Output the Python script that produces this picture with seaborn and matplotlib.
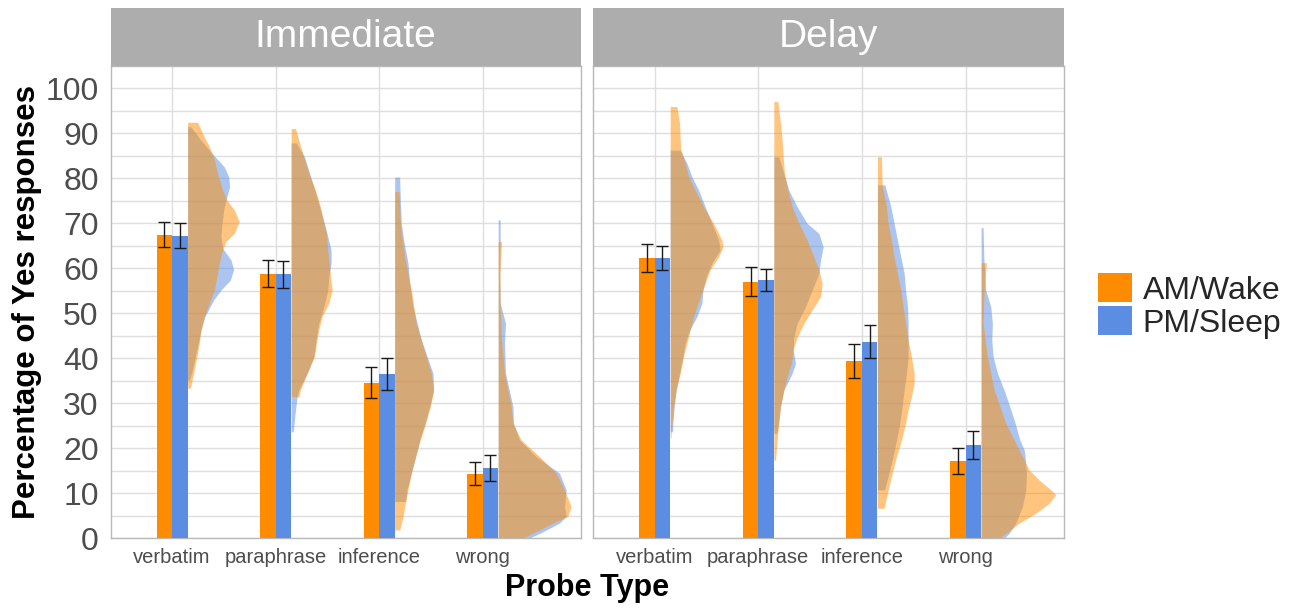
import matplotlib
matplotlib.use("Agg")
import matplotlib.pyplot as plt
import pandas as pd
import seaborn as sns
from matplotlib.patches import Patch
from matplotlib.ticker import MultipleLocator

sns.set_style("white")
plt.rcParams["font.family"] = ["Liberation Sans", "DejaVu Sans"]

# ---- data -------------------------------------------------------------
probes = ["verbatim", "paraphrase", "inference", "wrong"]
groups = ["AM/Wake", "PM/Sleep"]
sessions = ["Immediate", "Delay"]

# mean percentage of "yes" responses and SE half-widths
mean_imm_am = [67.4, 58.7, 34.5, 14.3]
mean_imm_pm = [67.2, 58.6, 36.4, 15.5]
se_imm_am = [2.8, 3.0, 3.4, 2.6]
se_imm_pm = [2.8, 3.0, 3.5, 2.9]
mean_del_am = [62.2, 57.0, 39.4, 17.1]
mean_del_pm = [62.2, 57.3, 43.6, 20.7]
se_del_am = [3.1, 3.2, 3.8, 2.8]
se_del_pm = [2.6, 2.4, 3.7, 3.1]

# density profiles of participant scores: (percentage, half-violin width)
imm_verbatim_am = [(92.4, 0.097), (89.9, 0.145), (87.0, 0.209), (84.7, 0.251), (81.0, 0.290),
                   (77.3, 0.338), (75.1, 0.380), (72.9, 0.451), (70.3, 0.499), (67.7, 0.451),
                   (65.9, 0.370), (64.0, 0.338), (61.1, 0.306), (58.1, 0.283), (55.1, 0.258),
                   (52.2, 0.209), (49.2, 0.161), (46.2, 0.129), (43.3, 0.113), (40.3, 0.090),
                   (36.6, 0.058), (33.3, 0.026)]
imm_verbatim_pm = [(91.4, 0.032), (88.4, 0.129), (85.1, 0.251), (82.5, 0.354), (80.3, 0.396),
                   (78.1, 0.406), (75.9, 0.380), (73.6, 0.354), (69.9, 0.332), (67.0, 0.322),
                   (64.4, 0.338), (61.8, 0.419), (59.6, 0.444), (57.3, 0.412), (55.1, 0.322),
                   (52.9, 0.251), (49.2, 0.167), (46.2, 0.129), (43.3, 0.103), (40.3, 0.074),
                   (36.6, 0.039), (35.1, 0.016)]
imm_paraphrase_am = [(91.0, 0.042), (88.4, 0.074), (84.7, 0.122), (81.0, 0.171), (77.3, 0.235),
                     (73.6, 0.283), (69.9, 0.316), (67.7, 0.341), (64.0, 0.354), (59.6, 0.374),
                     (55.1, 0.396), (52.2, 0.364), (49.2, 0.300), (46.2, 0.267), (43.3, 0.245),
                     (40.3, 0.225), (36.6, 0.155), (32.9, 0.090), (31.4, 0.074)]
imm_paraphrase_pm = [(87.8, 0.050), (84.7, 0.129), (77.3, 0.229), (69.9, 0.322), (67.0, 0.354),
                     (64.0, 0.386), (61.1, 0.386), (58.1, 0.364), (55.1, 0.354), (51.4, 0.316),
                     (47.7, 0.267), (44.7, 0.245), (40.3, 0.219), (36.6, 0.155), (32.9, 0.074),
                     (31.4, 0.058), (28.4, 0.042), (23.6, 0.020)]
imm_inference_am = [(77.0, 0.042), (69.9, 0.055), (62.5, 0.097), (55.1, 0.161), (47.7, 0.209),
                    (40.3, 0.306), (36.6, 0.354), (32.9, 0.377), (29.2, 0.345), (25.5, 0.300),
                    (21.8, 0.248), (18.1, 0.203), (14.4, 0.161), (10.7, 0.129), (8.1, 0.106),
                    (4.7, 0.080), (1.8, 0.050)]
imm_inference_pm = [(80.2, 0.048), (75.1, 0.055), (69.9, 0.064), (66.2, 0.087), (61.1, 0.129),
                    (56.6, 0.145), (51.4, 0.177), (44.0, 0.258), (36.6, 0.370), (32.9, 0.377),
                    (29.2, 0.338), (25.5, 0.293), (21.8, 0.242), (18.1, 0.203), (14.4, 0.161),
                    (10.7, 0.119), (8.1, 0.106)]
imm_wrong_am = [(65.9, 0.032), (58.8, 0.019), (51.4, 0.019), (44.0, 0.032), (36.6, 0.061),
                (29.2, 0.126), (25.5, 0.142), (21.8, 0.222), (18.1, 0.399), (14.4, 0.560),
                (10.7, 0.640), (7.0, 0.705), (4.8, 0.673), (3.3, 0.528), (1.8, 0.399), (0.0, 0.238)]
imm_wrong_pm = [(70.7, 0.019), (65.5, 0.019), (58.8, 0.013), (52.2, 0.019), (47.7, 0.071),
                (43.3, 0.061), (36.6, 0.071), (29.2, 0.142), (25.5, 0.148), (21.8, 0.206),
                (18.1, 0.367), (14.4, 0.592), (10.7, 0.657), (7.0, 0.641), (4.8, 0.657),
                (3.3, 0.592), (1.0, 0.399), (0.0, 0.303)]
del_verbatim_am = [(95.9, 0.064), (92.2, 0.090), (88.4, 0.097), (86.2, 0.103), (83.3, 0.145),
                   (80.3, 0.177), (77.3, 0.242), (73.6, 0.322), (69.9, 0.419), (66.2, 0.499),
                   (64.7, 0.509), (62.5, 0.467), (59.6, 0.386), (56.6, 0.338), (53.6, 0.290),
                   (49.2, 0.225), (44.7, 0.177), (40.3, 0.129), (36.6, 0.097), (32.9, 0.058),
                   (29.2, 0.032), (25.5, 0.016), (22.2, 0.008)]
del_verbatim_pm = [(86.2, 0.097), (83.3, 0.161), (80.3, 0.209), (77.3, 0.274), (73.6, 0.338),
                   (69.9, 0.403), (66.2, 0.467), (64.0, 0.483), (61.1, 0.403), (58.1, 0.348),
                   (55.1, 0.316), (52.2, 0.306), (49.2, 0.258), (46.2, 0.187), (43.3, 0.145),
                   (40.3, 0.122), (36.6, 0.090), (32.9, 0.058), (29.2, 0.039), (25.5, 0.026),
                   (23.6, 0.023)]
del_paraphrase_am = [(97.0, 0.039), (92.2, 0.064), (88.4, 0.080), (84.7, 0.090), (81.0, 0.103),
                     (77.3, 0.135), (73.6, 0.177), (69.9, 0.242), (66.2, 0.322), (62.5, 0.386),
                     (59.6, 0.435), (56.6, 0.467), (53.6, 0.451), (50.7, 0.370), (47.7, 0.290),
                     (44.7, 0.226), (41.8, 0.187), (38.8, 0.168), (35.9, 0.129), (32.9, 0.097),
                     (29.2, 0.064), (25.5, 0.048), (21.8, 0.032), (17.3, 0.016)]
del_paraphrase_pm = [(84.7, 0.048), (81.0, 0.097), (77.3, 0.145), (73.6, 0.225), (69.9, 0.322),
                     (67.7, 0.435), (64.7, 0.476), (61.8, 0.451), (58.8, 0.435), (55.1, 0.370),
                     (51.4, 0.306), (47.7, 0.225), (44.7, 0.193), (41.8, 0.187), (38.8, 0.209),
                     (36.6, 0.177), (32.9, 0.097), (29.2, 0.064), (25.5, 0.045), (23.3, 0.030)]
del_inference_am = [(84.7, 0.039), (78.5, 0.045), (73.6, 0.087), (69.9, 0.103), (66.2, 0.135),
                    (62.5, 0.161), (58.8, 0.193), (55.1, 0.225), (51.4, 0.248), (47.7, 0.271),
                    (44.0, 0.296), (40.3, 0.328), (36.6, 0.354), (34.4, 0.354), (31.4, 0.328),
                    (28.5, 0.296), (25.5, 0.271), (21.8, 0.232), (18.1, 0.184), (14.4, 0.142),
                    (10.7, 0.103), (6.6, 0.064)]
del_inference_pm = [(78.5, 0.071), (73.6, 0.129), (69.9, 0.161), (66.2, 0.193), (62.5, 0.225),
                    (58.8, 0.258), (55.1, 0.271), (51.4, 0.290), (47.7, 0.296), (44.0, 0.296),
                    (40.3, 0.296), (36.6, 0.280), (32.9, 0.258), (29.2, 0.238), (25.5, 0.216),
                    (21.8, 0.184), (18.1, 0.151), (14.4, 0.110), (10.7, 0.070)]
del_wrong_am = [(61.2, 0.052), (55.1, 0.029), (47.7, 0.019), (40.3, 0.061), (32.9, 0.126),
                (25.5, 0.238), (21.8, 0.319), (18.1, 0.399), (15.1, 0.464), (12.9, 0.560),
                (10.7, 0.673), (9.6, 0.721), (7.7, 0.657), (5.5, 0.528), (3.3, 0.367),
                (1.0, 0.238), (0.0, 0.174)]
del_wrong_pm = [(69.0, 0.019), (62.5, 0.026), (55.1, 0.045), (51.4, 0.093), (47.7, 0.109),
                (44.0, 0.103), (40.3, 0.116), (36.6, 0.158), (32.9, 0.222), (29.2, 0.277),
                (25.5, 0.329), (21.8, 0.374), (19.6, 0.416), (18.1, 0.425), (14.4, 0.438),
                (10.7, 0.432), (7.0, 0.399), (3.3, 0.335), (1.0, 0.271), (0.0, 0.223)]

# ---- tables built from the arrays above ---------------------------------
means = {("Immediate", "AM/Wake"): mean_imm_am, ("Immediate", "PM/Sleep"): mean_imm_pm,
         ("Delay", "AM/Wake"): mean_del_am, ("Delay", "PM/Sleep"): mean_del_pm}
ses = {("Immediate", "AM/Wake"): se_imm_am, ("Immediate", "PM/Sleep"): se_imm_pm,
       ("Delay", "AM/Wake"): se_del_am, ("Delay", "PM/Sleep"): se_del_pm}
profiles = {
    "Immediate": {"AM/Wake": [imm_verbatim_am, imm_paraphrase_am, imm_inference_am, imm_wrong_am],
                  "PM/Sleep": [imm_verbatim_pm, imm_paraphrase_pm, imm_inference_pm, imm_wrong_pm]},
    "Delay": {"AM/Wake": [del_verbatim_am, del_paraphrase_am, del_inference_am, del_wrong_am],
              "PM/Sleep": [del_verbatim_pm, del_paraphrase_pm, del_inference_pm, del_wrong_pm]},
}

rows = []
for s in sessions:
    for g in groups:
        for p, m, e in zip(probes, means[(s, g)], ses[(s, g)]):
            rows.append({"session": s, "group": g, "probe": p, "mean": m, "se": e})
df = pd.DataFrame(rows)

# ---- style ------------------------------------------------------------
colors = {"AM/Wake": "#FF8C00", "PM/Sleep": "#5B8DE3"}
grid_c = "#DEDEDE"
border_c = "#B8B8B8"
tick_c = "#4D4D4D"
bar_w = 0.3          # total width of a dodged pair of bars
W, H = 1295, 609

fig = plt.figure(figsize=(W / 100, H / 100), dpi=100)
panel_px = [(110.5, 581.0), (593.0, 1064.0)]
top_px, bot_px, strip_top_px = 66.0, 538.0, 7.5

for k, (session, (x0, x1)) in enumerate(zip(sessions, panel_px)):
    ax = fig.add_axes([x0 / W, 1 - bot_px / H, (x1 - x0) / W, (bot_px - top_px) / H])
    sub = df[df["session"] == session]

    # half violins: PM first, AM drawn over it
    for g in ["PM/Sleep", "AM/Wake"]:
        for i, prof in enumerate(profiles[session][g]):
            ys = [p[0] for p in prof]
            ws = [p[1] for p in prof]
            left = i + bar_w / 2
            ax.fill_betweenx(ys, left, [left + w for w in ws], color=colors[g],
                             alpha=0.5, lw=0, zorder=2)

    sns.barplot(data=sub, x="probe", y="mean", hue="group", order=probes,
                hue_order=groups, palette=colors, width=bar_w, gap=0,
                errorbar=None, saturation=1, legend=False, ax=ax, zorder=3,
                linewidth=0, edgecolor="none")

    for g, cont in zip(groups, ax.containers):
        gsub = sub[sub["group"] == g].set_index("probe").loc[probes]
        xs = [b.get_x() + b.get_width() / 2 for b in cont]
        ax.errorbar(xs, gsub["mean"], yerr=gsub["se"], fmt="none", ecolor="#1A1A1A",
                    elinewidth=1.0, capsize=4.0, capthick=1.0, zorder=4)

    ax.set_xlim(-0.595, 3.95)
    ax.set_ylim(0, 104.9)
    ax.yaxis.set_major_locator(MultipleLocator(10))
    ax.yaxis.set_minor_locator(MultipleLocator(5))
    ax.set_axisbelow(True)
    ax.grid(which="major", axis="both", color=grid_c, lw=1.0)
    ax.grid(which="minor", axis="y", color=grid_c, lw=1.0)
    for sp in ax.spines.values():
        sp.set_visible(True)
        sp.set_color(border_c)
        sp.set_linewidth(1.0)
    ax.set_xlabel("")
    ax.set_ylabel("")
    ax.tick_params(which="minor", length=0)
    ax.tick_params(axis="x", which="major", length=3.5, width=0.9, color=border_c,
                   labelsize=14.5, labelcolor=tick_c, pad=4)
    if k == 0:
        ax.tick_params(axis="y", which="major", length=3.5, width=0.9, color=border_c,
                       labelsize=23, labelcolor=tick_c, pad=5)
    else:
        ax.tick_params(axis="y", which="major", left=False, labelleft=False)

    # facet strip
    sax = fig.add_axes([x0 / W, 1 - top_px / H, (x1 - x0) / W, (top_px - strip_top_px) / H])
    sax.set_facecolor("#ADADAD")
    sax.set_xticks([])
    sax.set_yticks([])
    for sp in sax.spines.values():
        sp.set_visible(False)
    sax.text(0.5, 0.5, session, ha="center", va="center", color="white",
             fontsize=28, transform=sax.transAxes)

fig.text(27 / W, 1 - 302 / H, "Percentage of Yes responses", rotation=90,
         ha="center", va="center", fontsize=22.5, fontweight="bold", color="black")
fig.text(587 / W, 1 - 588 / H, "Probe Type", ha="center", va="center",
         fontsize=22, fontweight="bold", color="black")

handles = [Patch(facecolor=colors[g], edgecolor="none") for g in groups]
fig.legend(handles, groups, loc="center left", bbox_to_anchor=(1098 / W, 1 - 306 / H),
           frameon=False, fontsize=23, handlelength=1.05, handleheight=1.0,
           handletextpad=0.35, labelspacing=0.02, borderpad=0, borderaxespad=0)

fig.savefig("out.png", dpi=100)
